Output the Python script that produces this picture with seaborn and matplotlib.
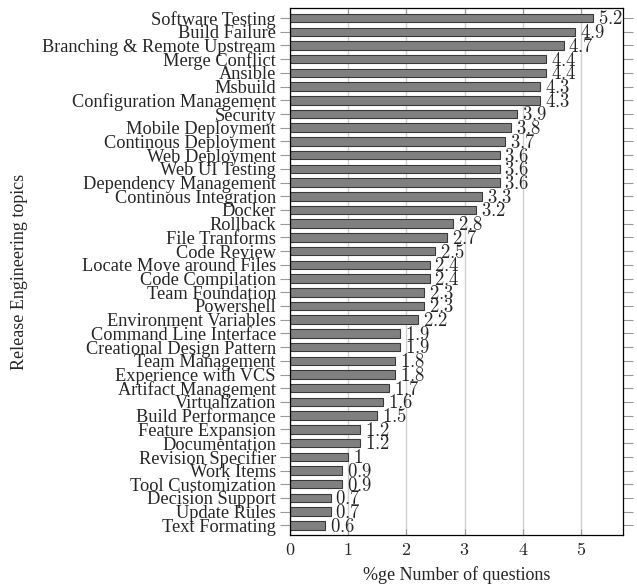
import matplotlib
matplotlib.use("Agg")
import matplotlib.pyplot as plt
import seaborn as sns
import pandas as pd

topics = [
    "Software Testing", "Build Failure", "Branching & Remote Upstream",
    "Merge Conflict", "Ansible", "Msbuild", "Configuration Management",
    "Security", "Mobile Deployment", "Continous Deployment", "Web Deployment",
    "Web UI Testing", "Dependency Management", "Continous Integration",
    "Docker", "Rollback", "File Tranforms", "Code Review",
    "Locate Move around Files", "Code Compilation", "Team Foundation",
    "Powershell", "Environment Variables", "Command Line Interface",
    "Creational Design Pattern", "Team Management", "Experience with VCS",
    "Artifact Management", "Virtualization", "Build Performance",
    "Feature Expansion", "Documentation", "Revision Specifier", "Work Items",
    "Tool Customization", "Decision Support", "Update Rules", "Text Formating",
]
pct = [
    5.2, 4.9, 4.7, 4.4, 4.4, 4.3, 4.3, 3.9, 3.8, 3.7, 3.6, 3.6, 3.6, 3.3,
    3.2, 2.8, 2.7, 2.5, 2.4, 2.4, 2.3, 2.3, 2.2, 1.9, 1.9, 1.8, 1.8, 1.7,
    1.6, 1.5, 1.2, 1.2, 1, 0.9, 0.9, 0.7, 0.7, 0.6,
]
x_ticks = [0, 1, 2, 3, 4, 5]

df = pd.DataFrame({"topic": topics, "pct": pct})

sns.set_style("white")
plt.rcParams["font.family"] = ["Liberation Serif", "DejaVu Serif"]
plt.rcParams["mathtext.fontset"] = "cm"

fig = plt.figure(figsize=(6.37, 5.84), dpi=100)
ax = fig.add_axes([0.455, 0.084, 0.523, 0.902])

sns.barplot(data=df, x="pct", y="topic", orient="h", ax=ax,
            color="#808080", edgecolor="#3a3a3a", linewidth=0.8,
            width=0.62, saturation=1)

# value labels in CM-like math font
for i, v in enumerate(pct):
    ax.annotate(f"${v:g}$", xy=(v, i), xytext=(3.5, -1),
                textcoords="offset points", va="center", ha="left",
                fontsize=13.5)

ax.set_xlim(0, 5.72)
ax.set_ylim(len(topics) - 0.3, -0.72)
ax.set_xticks(x_ticks)
ax.set_xticklabels([f"${t}$" for t in x_ticks], fontsize=13)
ax.xaxis.grid(True, color="#d0d0d0", linewidth=1.0)
ax.set_axisbelow(True)

ax.tick_params(axis="x", direction="in", top=True, bottom=True,
               length=4, color="#999999", pad=5)
ax.tick_params(axis="y", direction="out", left=True, right=True,
               length=7, color="#999999", labelsize=13.2, pad=3)

for s in ax.spines.values():
    s.set_visible(True)
    s.set_color("black")
    s.set_linewidth(0.9)

ax.set_xlabel("%ge Number of questions", fontsize=13, labelpad=5)
ax.set_ylabel("Release Engineering topics", fontsize=13, labelpad=10)

fig.savefig("out.png", dpi=100)
